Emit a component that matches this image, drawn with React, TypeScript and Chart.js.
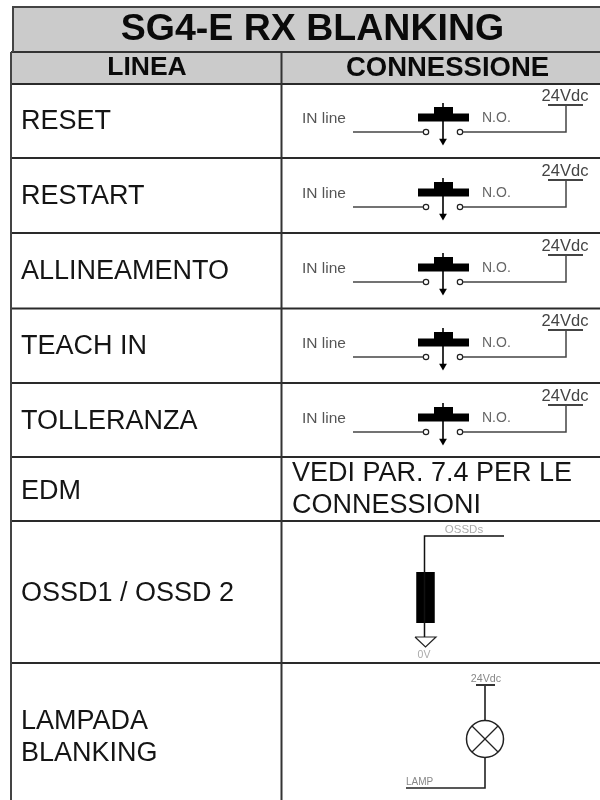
import React, { useEffect, useRef } from "react";
import { Chart, registerables } from "chart.js";

Chart.register(...registerables);

const FONT = '"Liberation Sans", Arial, sans-serif';

const titleText = "SG4-E RX BLANKING";
const headerLabels = ["LINEA", "CONNESSIONE"];
const rowLabels = ["RESET", "RESTART", "ALLINEAMENTO", "TEACH IN", "TOLLERANZA", "EDM", "OSSD1 / OSSD 2"];
const rowLabelYs = [120, 195, 270, 345, 420, 490, 592];
const lampLines = ["LAMPADA", "BLANKING"];
const lampLineYs = [720, 752];
const noteLines = ["VEDI PAR. 7.4 PER LE", "CONNESSIONI"];
const noteLineYs = [472, 504];
const rowRules = [84, 158, 233, 308.5, 383, 457, 521, 663];
const switchOffsets = [0, 75, 150, 225, 300];

type Pt = { x: number; y: number };
const seg = (pts: number[][], width: number, color = "#111", extra: object = {}) => ({
  data: pts.map(([x, y]): Pt => ({ x, y })),
  showLine: true,
  borderColor: color,
  borderWidth: width,
  pointRadius: 0,
  borderCapStyle: "butt",
  ...extra,
});
const band = (x0: number, x1: number, y0: number, y1: number, color: string) => ({
  data: [{ x: x0, y: y0 }, { x: x1, y: y0 }],
  showLine: true,
  borderWidth: 0,
  pointRadius: 0,
  backgroundColor: color,
  fill: { value: y1 },
  order: 100,
});
const marker = (x: number, y: number, r: number, style: string, rotation = 0, fillColor = "#fff", bw = 1) => ({
  data: [{ x, y }],
  showLine: false,
  pointStyle: style,
  pointRadius: r,
  pointRotation: rotation,
  pointBackgroundColor: fillColor,
  pointBorderColor: "#222",
  pointBorderWidth: bw,
});

const buildDatasets = () => {
  const ds: any[] = [
    band(13, 600, 7, 52, "#cbcbcb"),
    band(11, 600, 52, 84, "#cbcbcb"),
    seg([[13, 52], [13, 7], [600, 7]], 2, "#444"),
    seg([[281.5, 52], [281.5, 800]], 2, "#333"),
    seg([[11, 52], [11, 800]], 2, "#444"),
    seg([[11, 52], [600, 52]], 2, "#333"),
  ];
  rowRules.forEach((y) => ds.push(seg([[11, y], [600, y]], 2, "#2a2a2a")));
  switchOffsets.forEach((o) => {
    ds.push(seg([[353, 132 + o], [423, 132 + o]], 1.5, "#444"));
    ds.push(seg([[463, 132 + o], [566, 132 + o], [566, 105 + o]], 1.5, "#444"));
    ds.push(seg([[548, 105 + o], [583, 105 + o]], 2, "#444"));
    ds.push(seg([[418, 117.5 + o], [469, 117.5 + o]], 8, "#000"));
    ds.push(seg([[443.5, 107 + o], [443.5, 114 + o]], 19, "#000"));
    ds.push(seg([[443, 103 + o], [443, 140 + o]], 1.6, "#000"));
    ds.push(marker(443, 141 + o, 4.5, "triangle", 180, "#000", 0));
    ds.push(marker(426, 132 + o, 2.7, "circle", 0, "#fff", 1.2));
    ds.push(marker(460, 132 + o, 2.7, "circle", 0, "#fff", 1.2));
  });
  // OSSD load
  ds.push(seg([[504, 536], [424.5, 536], [424.5, 637]], 1.5, "#111"));
  ds.push(seg([[425.5, 572], [425.5, 623]], 18.5, "#000"));
  ds.push(seg([[415, 637], [436, 637], [425.5, 647], [415, 637]], 1.2, "#222"));
  // Lamp
  ds.push(seg([[476, 685], [495, 685]], 2, "#333"));
  ds.push(seg([[485, 685], [485, 720]], 1.5, "#111"));
  ds.push(seg([[472, 726], [498, 752]], 1.3, "#222"));
  ds.push(seg([[498, 726], [472, 752]], 1.3, "#222"));
  ds.push(seg([[485, 758], [485, 788], [406, 788]], 1.6, "#222"));
  ds.push({ ...marker(485, 739, 18.5, "circle", 0, "rgba(255,255,255,0)", 1.5), order: 0 });
  return ds;
};

type T = { s: string; x: number; y: number; f: string; c: string; a?: CanvasTextAlign };
const switchTexts = (o: number): T[] => [
  { s: "IN line", x: 302, y: 118.5 + o, f: `15.5px ${FONT}`, c: "#555", a: "left" },
  { s: "N.O.", x: 482, y: 118 + o, f: `14px ${FONT}`, c: "#666", a: "left" },
  { s: "24Vdc", x: 565, y: 96 + o, f: `16.5px ${FONT}`, c: "#444", a: "center" },
];

const textPlugin = {
  id: "tableText",
  afterDatasetsDraw(chart: any) {
    const { ctx, scales } = chart;
    const rowFont = `27px ${FONT}`;
    const items: T[] = [
      { s: titleText, x: 312.5, y: 29.5, f: `bold 37.5px ${FONT}`, c: "#0a0a0a", a: "center" },
      { s: headerLabels[0], x: 147, y: 68, f: `bold 26.5px ${FONT}`, c: "#0a0a0a", a: "center" },
      { s: headerLabels[1], x: 447.5, y: 68, f: `bold 27.5px ${FONT}`, c: "#0a0a0a", a: "center" },
      ...rowLabels.map((s, i) => ({ s, x: 21, y: rowLabelYs[i] + 2, f: rowFont, c: "#151515", a: "left" as CanvasTextAlign })),
      ...lampLines.map((s, i) => ({ s, x: 21, y: lampLineYs[i] + 1.5, f: rowFont, c: "#151515", a: "left" as CanvasTextAlign })),
      ...noteLines.map((s, i) => ({ s, x: 292, y: noteLineYs[i] + 1.5, f: `27px ${FONT}`, c: "#151515", a: "left" as CanvasTextAlign })),
      ...switchOffsets.flatMap(switchTexts),
      { s: "OSSDs", x: 464, y: 530, f: `11.5px ${FONT}`, c: "#aaa", a: "center" },
      { s: "0V", x: 424, y: 655, f: `10.5px ${FONT}`, c: "#aaa", a: "center" },
      { s: "24Vdc", x: 486, y: 679, f: `10.7px ${FONT}`, c: "#888", a: "center" },
      { s: "LAMP", x: 406, y: 782, f: `10px ${FONT}`, c: "#888", a: "left" },
    ];
    ctx.save();
    ctx.textBaseline = "middle";
    items.forEach((t) => {
      ctx.font = t.f;
      ctx.fillStyle = t.c;
      ctx.textAlign = t.a ?? "left";
      ctx.fillText(t.s, scales.x.getPixelForValue(t.x), scales.y.getPixelForValue(t.y));
    });
    ctx.restore();
  },
};

export default function App() {
  const ref = useRef<HTMLCanvasElement>(null);
  useEffect(() => {
    const chart = new Chart(ref.current!, {
      type: "scatter",
      data: { datasets: buildDatasets() },
      options: {
        animation: false,
        responsive: false,
        layout: { padding: 0, autoPadding: false },
        plugins: { legend: { display: false }, tooltip: { enabled: false }, title: { display: false } },
        scales: {
          x: { type: "linear", min: 0, max: 600, display: false },
          y: { type: "linear", min: 0, max: 800, reverse: true, display: false },
        },
      },
      plugins: [textPlugin],
    } as any);
    return () => chart.destroy();
  }, []);
  return (
    <canvas
      ref={ref}
      width={600}
      height={800}
      style={{ position: "absolute", left: 0, top: 0, width: 600, height: 800, background: "#fff" }}
    />
  );
}
